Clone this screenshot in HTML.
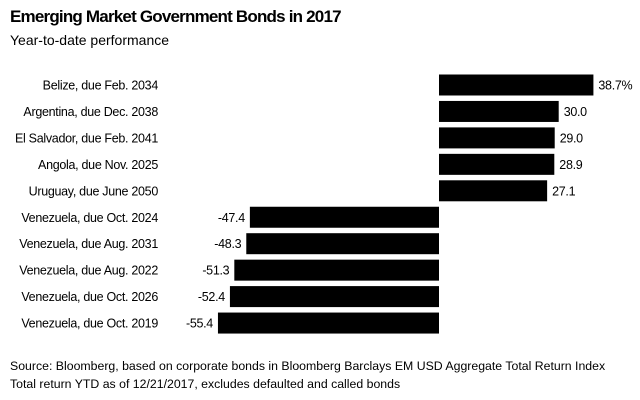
<!DOCTYPE html>
<html><head><meta charset="utf-8"><style>
body{margin:0;background:#fff;font-family:"Liberation Sans",sans-serif;color:#000}
#wrap{position:relative;width:640px;height:400px;overflow:hidden}
.t{position:absolute;white-space:nowrap}
</style></head><body>
<div id="wrap">
<div class="t" style="left:10px;top:7px;font-size:17px;font-weight:bold;letter-spacing:-0.8px">Emerging Market Government Bonds in 2017</div>
<div class="t" style="left:10px;top:32px;font-size:14px">Year-to-date performance</div>
<svg id="svg" width="640" height="400" style="position:absolute;left:0;top:0"></svg>
<div class="t" style="left:10px;top:359px;font-size:12.3px">Source: Bloomberg, based on corporate bonds in Bloomberg Barclays EM USD Aggregate Total Return Index</div>
<div class="t" style="left:10px;top:377px;font-size:12.3px">Total return YTD as of 12/21/2017, excludes defaulted and called bonds</div>
</div>
<script>
const categories=["Belize, due Feb. 2034","Argentina, due Dec. 2038","El Salvador, due Feb. 2041","Angola, due Nov. 2025","Uruguay, due June 2050","Venezuela, due Oct. 2024","Venezuela, due Aug. 2031","Venezuela, due Aug. 2022","Venezuela, due Oct. 2026","Venezuela, due Oct. 2019"];
const values=[38.7,30.0,29.0,28.9,27.1,-47.4,-48.3,-51.3,-52.4,-55.4];
const valueLabels=["38.7%","30.0","29.0","28.9","27.1","-47.4","-48.3","-51.3","-52.4","-55.4"];
const NS="http://www.w3.org/2000/svg";
const svg=document.getElementById('svg');
const x0=439, k=3.99;
const xs=v=>x0+v*k;
const yc=i=>85+i*26.45;
const bh=21;
categories.forEach((c,i)=>{
  const v=values[i];
  const r=document.createElementNS(NS,'rect');
  
  
  r.setAttribute('x',Math.min(xs(0),xs(v)));
  r.setAttribute('y',yc(i)-bh/2);
  r.setAttribute('width',Math.abs(xs(v)-xs(0)));
  r.setAttribute('height',bh);
  r.setAttribute('fill','#000');
  svg.appendChild(r);
  const t=document.createElementNS(NS,'text');
  
  
  t.setAttribute('x',158);t.setAttribute('y',yc(i)+4.5);
  t.setAttribute('text-anchor','end');t.setAttribute('font-size','12.5');
  t.setAttribute('letter-spacing','-0.3');
  t.setAttribute('font-family','Liberation Sans, sans-serif');
  t.textContent=c;svg.appendChild(t);
  const l=document.createElementNS(NS,'text');
  
  
  l.setAttribute('x',v>=0?xs(v)+5:xs(v)-5);l.setAttribute('y',yc(i)+4.5);
  l.setAttribute('text-anchor',v>=0?'start':'end');l.setAttribute('font-size','12.5');
  l.setAttribute('letter-spacing','-0.3');
  l.setAttribute('font-family','Liberation Sans, sans-serif');
  l.textContent=valueLabels[i];svg.appendChild(l);
});
</script>
</body></html>
